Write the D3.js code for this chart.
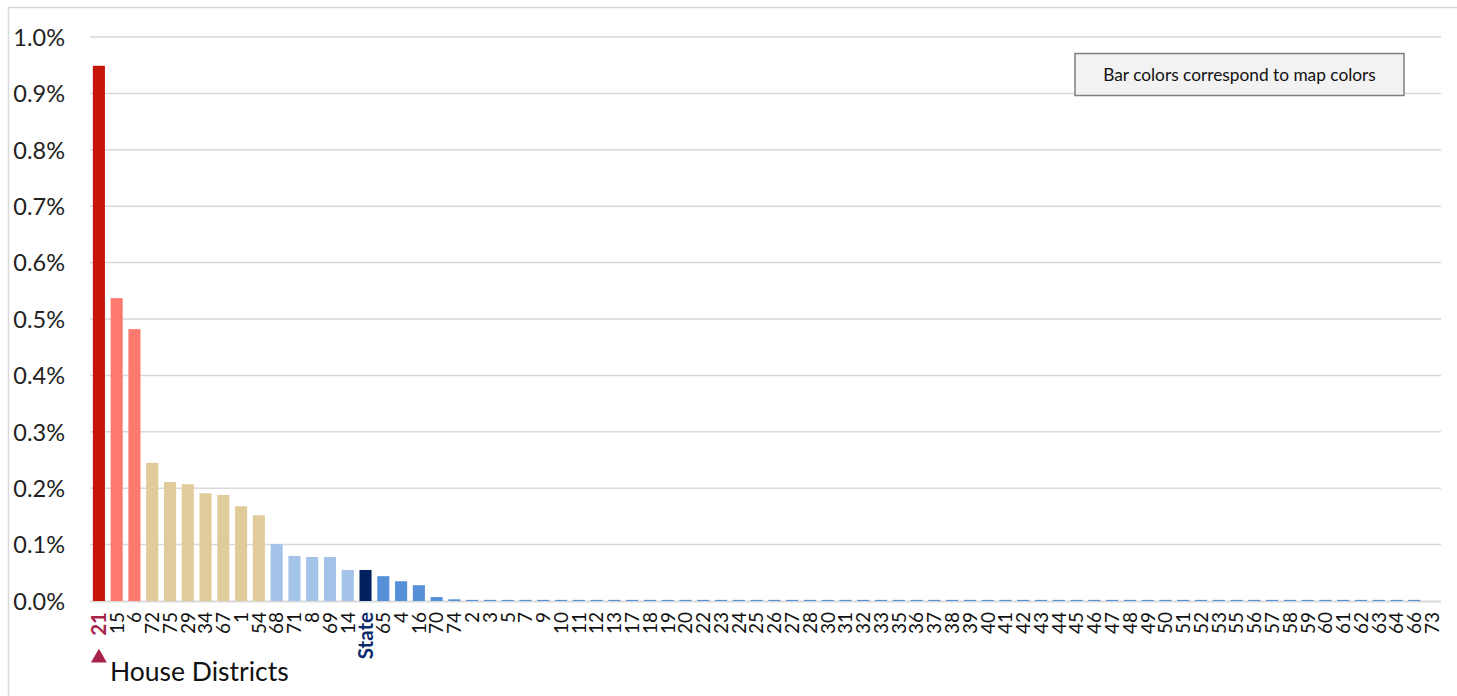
<!DOCTYPE html>
<html><head><meta charset="utf-8">
<script src="https://cdn.jsdelivr.net/npm/d3@7"></script>
<style>
html,body{margin:0;padding:0;background:#fff;}
svg{display:block;font-family:Lato,"Open Sans",sans-serif;}
</style></head>
<body>
<svg id="chart" width="1457" height="696"></svg>
<script>
const districts = ["21","15","6","72","75","29","34","67","1","54","68","71","8","69","14","State","65","4","16","70","74","2","3","5","7","9","10","11","12","13","17","18","19","20","22","23","24","25","26","27","28","30","31","32","33","35","36","37","38","39","40","41","42","43","44","45","46","47","48","49","50","51","52","53","55","56","57","58","59","60","61","62","63","64","66","73"];
const values = [0.949,0.537,0.482,0.245,0.211,0.207,0.191,0.188,0.168,0.152,0.101,0.080,0.078,0.078,0.055,0.055,0.044,0.035,0.028,0.007,0.003,0.002,0.002,0.002,0.002,0.002,0.002,0.002,0.002,0.002,0.002,0.002,0.002,0.002,0.002,0.002,0.002,0.002,0.002,0.002,0.002,0.002,0.002,0.002,0.002,0.002,0.002,0.002,0.002,0.002,0.002,0.002,0.002,0.002,0.002,0.002,0.002,0.002,0.002,0.002,0.002,0.002,0.002,0.002,0.002,0.002,0.002,0.002,0.002,0.002,0.002,0.002,0.002,0.002,0.002,0];
// map color class per bar
const colorClass = ["darkred","salmon","salmon","tan","tan","tan","tan","tan","tan","tan","lightblue","lightblue","lightblue","lightblue","lightblue","state"].concat(d3.range(60).map(()=>"blue"));
const yTicks = [0,0.1,0.2,0.3,0.4,0.5,0.6,0.7,0.8,0.9,1.0];
const legendText = "Bar colors correspond to map colors";
const axisTitle = "House Districts";

const palette = {darkred:"#C6160A",salmon:"#FF7A6E",tan:"#E0CB9B",lightblue:"#A3C3E8",state:"#02215F",blue:"#5590D8"};

const svg = d3.select("#chart");
const W = 1457, H = 696;

// outer frame
svg.append("rect").attr("x",8.5).attr("y",7.5).attr("width",W).attr("height",H)
  .attr("fill","none").attr("stroke","#D9D9D9").attr("stroke-width",1.5);

const x = d3.scaleBand().domain(districts).range([90,1441]).paddingInner(0.32).paddingOuter(0.16);
const y = d3.scaleLinear().domain([0,1.0]).range([601,37]);

// gridlines
svg.append("g").selectAll("line").data(yTicks.filter(t=>t>0)).join("line")
  .attr("x1",90).attr("x2",1441).attr("y1",d=>y(d)).attr("y2",d=>y(d))
  .attr("stroke","#D9D9D9").attr("stroke-width",1.5);

// y axis labels
const yAxis = d3.axisLeft(y).tickValues(yTicks).tickFormat(d=>d.toFixed(1)+"%").tickSize(0).tickPadding(0);
const gy = svg.append("g").attr("transform","translate(65,0)").call(yAxis);
gy.select(".domain").remove();
gy.selectAll("text").attr("font-size",23.5).attr("fill","#222").attr("font-family","Lato,sans-serif").attr("dy","0.35em");

// baseline
svg.append("line").attr("x1",90).attr("x2",1441).attr("y1",601.5).attr("y2",601.5)
  .attr("stroke","#D9D9D9").attr("stroke-width",2);

// bars
svg.append("g").selectAll("rect").data(districts).join("rect")
  .attr("x",d=>x(d)).attr("width",x.bandwidth())
  .attr("y",(d,i)=>y(values[i])).attr("height",(d,i)=>y(0)-y(values[i]))
  .attr("fill",(d,i)=>palette[colorClass[i]]);

// x labels
const xAxis = d3.axisBottom(x).tickSize(0).tickPadding(0);
const gx = svg.append("g").attr("transform","translate(0,612)").call(xAxis);
gx.select(".domain").remove();
gx.selectAll("text")
  .attr("transform","rotate(-90)")
  .attr("text-anchor","end")
  .attr("x",0).attr("y",0).attr("dy","0.36em")
  .attr("font-size",d=>(d==="21"||d==="State")?20.5:19)
  .attr("font-family","Lato,sans-serif")
  .attr("fill",d=>d==="21"?"#A8234A":(d==="State"?"#0B2A6B":"#111"))
  .attr("font-weight",d=>(d==="21"||d==="State")?"bold":"normal");

// triangle marker under 21
const cx = x("21")+x.bandwidth()/2;
svg.append("path").attr("d",d3.symbol().type(d3.symbolTriangle).size(110)())
  .attr("transform",`translate(${cx},${658})`).attr("fill","#A8234A");

// axis title
svg.append("text").attr("x",110).attr("y",681).attr("font-size",26.5)
  .attr("fill","#111").text(axisTitle);

// legend box
svg.append("rect").attr("x",1075).attr("y",53.5).attr("width",329).attr("height",42)
  .attr("fill","#F2F2F2").attr("stroke","#7F7F7F").attr("stroke-width",1.5);
svg.append("text").attr("x",1239.5).attr("y",75).attr("text-anchor","middle").attr("dy","0.35em")
  .attr("font-size",17.3).attr("fill","#111").text(legendText);
</script>
</body></html>
